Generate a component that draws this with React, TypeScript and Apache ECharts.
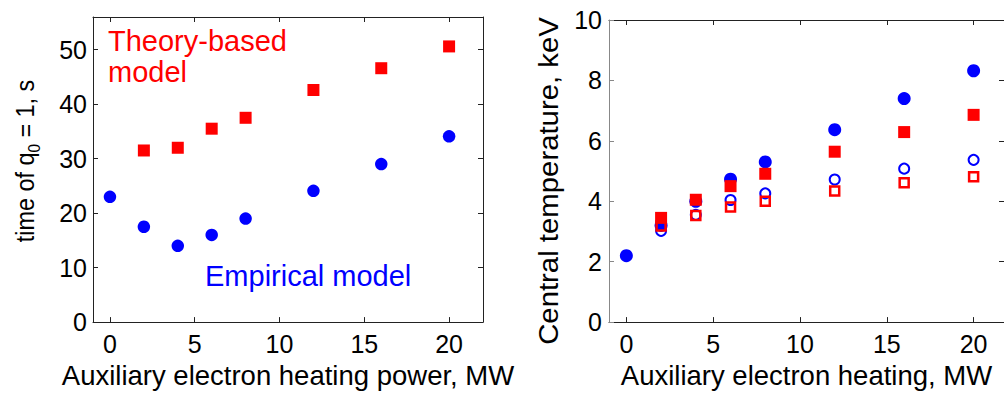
import React, { useEffect, useRef } from 'react';
import * as echarts from 'echarts';

// Left panel: time of q0 = 1 vs auxiliary electron heating power
const theoryPower = [2, 4, 6, 8, 12, 16, 20];
const theoryTime = [31.5, 32, 35.5, 37.5, 42.6, 46.6, 50.6];
const empiricalPower = [0, 2, 4, 6, 8, 12, 16, 20];
const empiricalTime = [23, 17.5, 14, 16, 19, 24.1, 29, 34.1];

// Right panel: central temperature vs auxiliary electron heating
const powerAll = [0, 2, 4, 6, 8, 12, 16, 20];
const blueFilledTemp = [2.2, 3.2, 4.0, 4.73, 5.3, 6.37, 7.4, 8.32];
const powerHeated = [2, 4, 6, 8, 12, 16, 20];
const redFilledTemp = [3.45, 4.05, 4.5, 4.91, 5.64, 6.29, 6.86];
const blueOpenTemp = [3.02, 3.55, 4.04, 4.26, 4.72, 5.08, 5.37];
const redOpenTemp = [3.18, 3.53, 3.81, 4.0, 4.34, 4.61, 4.81];

const xTicks = [0, 5, 10, 15, 20];
const yTicksLeft = [0, 10, 20, 30, 40, 50];
const yTicksRight = [0, 2, 4, 6, 8, 10];

const FONT = 'Liberation Sans, Arial, Helvetica, sans-serif';
const BLUE = '#0000ff';
const RED = '#ff0000';

function pairs(xs: number[], ys: number[]) {
  return xs.map((x, i) => [x, ys[i]]);
}

function axisBase(color: string, ticks: number[]) {
  return {
    type: 'value' as const,
    axisLine: { show: true, onZero: false, lineStyle: { color, width: 1 } },
    axisTick: { show: true, inside: true, length: 5, customValues: ticks, lineStyle: { color, width: 1 } },
    axisLabel: { show: false },
    splitLine: { show: false },
  };
}

function tickLabels(ticks: number[], margin: number) {
  return { show: true, customValues: ticks, fontSize: 25, color: '#000', fontFamily: FONT, margin };
}

export default function App() {
  const ref = useRef<HTMLDivElement>(null);
  useEffect(() => {
    if (!ref.current) return;
    const chart = echarts.init(ref.current, undefined, { renderer: 'svg' });
    const option: any = {
      animation: false,
      backgroundColor: '#fff',
      grid: [
        { left: 93, top: 17, width: 390, height: 310 },
        { left: 609, top: 20, width: 398, height: 308 },
      ],
      xAxis: [
        {
          ...axisBase('#222', xTicks),
          gridIndex: 0, position: 'bottom', min: -1, max: 22,
          axisLabel: tickLabels(xTicks, 9),
          name: 'Auxiliary electron heating power, MW',
          nameLocation: 'middle', nameGap: 34,
          nameTextStyle: { fontSize: 27.5, color: '#000', fontFamily: FONT },
        },
        { ...axisBase('#222', xTicks), gridIndex: 0, position: 'top', min: -1, max: 22 },
        {
          ...axisBase('#222', xTicks),
          gridIndex: 1, position: 'bottom', min: -1, max: 21.75,
          axisLabel: tickLabels(xTicks, 9),
          name: 'Auxiliary electron heating, MW',
          nameLocation: 'middle', nameGap: 34,
          nameTextStyle: { fontSize: 27.5, color: '#000', fontFamily: FONT },
        },
        { ...axisBase('#222', xTicks), gridIndex: 1, position: 'top', min: -1, max: 21.75 },
      ],
      yAxis: [
        {
          ...axisBase('#222', yTicksLeft),
          gridIndex: 0, position: 'left', min: 0, max: 56,
          axisLabel: tickLabels(yTicksLeft, 6),
        },
        { ...axisBase('#222', yTicksLeft), gridIndex: 0, position: 'right', min: 0, max: 56 },
        {
          ...axisBase('#888', yTicksRight),
          gridIndex: 1, position: 'left', min: 0, max: 10,
          axisLabel: tickLabels(yTicksRight, 7),
        },
        { ...axisBase('#222', yTicksRight), gridIndex: 1, position: 'right', min: 0, max: 10 },
      ],
      graphic: [
        {
          type: 'text', x: 25, y: 161, rotation: Math.PI / 2, scaleX: 0.9,
          style: {
            text: 'time of q{sub|0} = 1, s',
            fill: '#000', font: `26px ${FONT}`, lineHeight: 34,
            textAlign: 'center', textVerticalAlign: 'middle',
            rich: { sub: { fill: '#000', font: `17px ${FONT}`, verticalAlign: 'bottom', lineHeight: 34 } },
          },
        },
        {
          type: 'text', x: 548, y: 181, rotation: Math.PI / 2, scaleX: 1.087,
          style: {
            text: 'Central temperature, keV',
            fill: '#000', font: `27px ${FONT}`,
            textAlign: 'center', textVerticalAlign: 'middle',
          },
        },
        {
          type: 'text', x: 108, y: 25,
          style: { text: 'Theory-based\nmodel', fill: RED, font: `29px ${FONT}`, lineHeight: 31, textVerticalAlign: 'top' },
        },
        {
          type: 'text', x: 205, y: 261,
          style: { text: 'Empirical model', fill: BLUE, font: `29px ${FONT}`, textVerticalAlign: 'top' },
        },
      ],
      series: [
        {
          type: 'scatter', xAxisIndex: 0, yAxisIndex: 0, symbol: 'circle', symbolSize: 12.5,
          itemStyle: { color: BLUE, opacity: 1 }, data: pairs(empiricalPower, empiricalTime),
        },
        {
          type: 'scatter', xAxisIndex: 0, yAxisIndex: 0, symbol: 'rect', symbolSize: 12,
          itemStyle: { color: RED, opacity: 1 }, data: pairs(theoryPower, theoryTime),
        },
        {
          type: 'scatter', xAxisIndex: 2, yAxisIndex: 2, symbol: 'circle', symbolSize: 13,
          itemStyle: { color: BLUE, opacity: 1 }, data: pairs(powerAll, blueFilledTemp),
        },
        {
          type: 'scatter', xAxisIndex: 2, yAxisIndex: 2, symbol: 'circle', symbolSize: 10,
          itemStyle: { color: 'rgba(0,0,0,0)', borderColor: BLUE, borderWidth: 2, opacity: 1 },
          data: pairs(powerHeated, blueOpenTemp),
        },
        {
          type: 'scatter', xAxisIndex: 2, yAxisIndex: 2, symbol: 'rect', symbolSize: 12,
          itemStyle: { color: RED, opacity: 1 }, data: pairs(powerHeated, redFilledTemp),
        },
        {
          type: 'scatter', xAxisIndex: 2, yAxisIndex: 2, symbol: 'rect', symbolSize: 9,
          itemStyle: { color: 'rgba(0,0,0,0)', borderColor: RED, borderWidth: 2.5, opacity: 1 },
          data: pairs(powerHeated, redOpenTemp),
        },
      ],
    };
    chart.setOption(option);
    return () => chart.dispose();
  }, []);
  return (
    <div
      ref={ref}
      style={{ position: 'fixed', left: 0, top: 0, width: 1004, height: 394, background: '#fff' }}
    />
  );
}
